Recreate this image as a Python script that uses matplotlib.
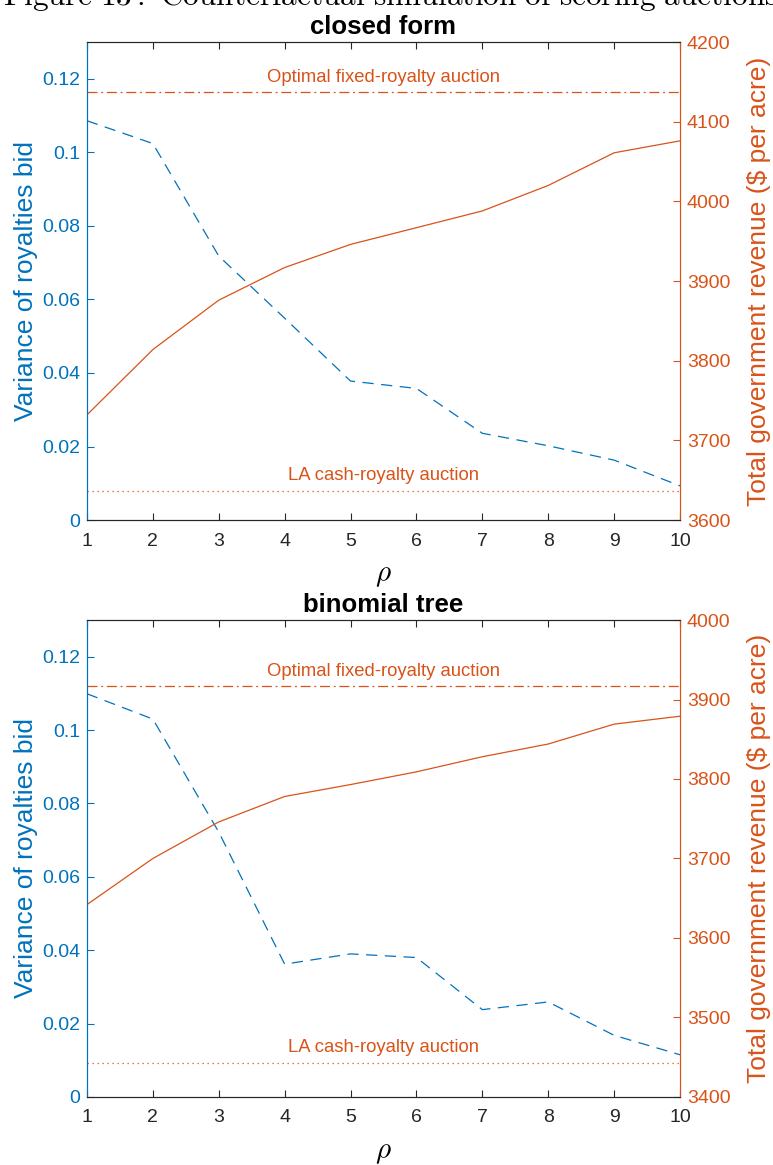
import matplotlib.pyplot as plt

plt.rcParams['font.family'] = ['Liberation Sans', 'DejaVu Sans']
plt.rcParams['mathtext.fontset'] = 'cm'

BLUE = '#0072BD'
ORANGE = '#D95319'
GRAY = '#262626'

rho = [1, 2, 3, 4, 5, 6, 7, 8, 9, 10]

# closed form
cf_variance = [0.1086, 0.1024, 0.0718, 0.0549, 0.0378, 0.0358, 0.0236, 0.0202, 0.0163, 0.0093]
cf_revenue = [3732, 3814, 3876, 3917, 3946, 3967, 3988, 4020, 4061, 4076]
cf_optimal = 4137
cf_la = 3637
cf_rev_lim = (3600, 4200)

# binomial tree
bt_variance = [0.1099, 0.1030, 0.0722, 0.0362, 0.0390, 0.0380, 0.0238, 0.0259, 0.0168, 0.0115]
bt_revenue = [3642, 3700, 3746, 3778, 3793, 3809, 3828, 3844, 3869, 3879]
bt_optimal = 3917
bt_la = 3443
bt_rev_lim = (3400, 4000)

var_ticks = [0, 0.02, 0.04, 0.06, 0.08, 0.1, 0.12]
var_ticklabels = ['0', '0.02', '0.04', '0.06', '0.08', '0.1', '0.12']

fig = plt.figure(figsize=(7.73, 11.65), dpi=100)
fig.text(0.505, 1 - 5 / 1165,
         r'$\mathrm{Figure\ 13:\ Counterfactual\ simulation\ of\ scoring\ auctions}$',
         ha='center', va='baseline', fontsize=22.5)


def panel(rect, title, variance, revenue, optimal, la, rev_lim):
    ax = fig.add_axes(rect)
    ax2 = ax.twinx()

    ax.plot(rho, variance, color=BLUE, lw=0.9, ls=(0, (9, 6)))
    ax.set_xlim(1, 10)
    ax.set_ylim(0, 0.13)
    ax.set_xticks(rho)
    ax.set_yticks(var_ticks)
    ax.set_yticklabels(var_ticklabels)
    ax.tick_params(axis='x', direction='in', top=True, length=5, width=0.8,
                   colors=GRAY, labelsize=14, pad=9)
    ax.tick_params(axis='y', direction='in', length=5, width=0.8,
                   colors=BLUE, labelsize=14, pad=5)
    ax.set_ylabel('Variance of royalties bid', color=BLUE, fontsize=19, labelpad=3)
    ax.set_xlabel(r'$\rho$', fontsize=21, labelpad=8)
    ax.set_title(title, fontsize=18.5, fontweight='bold', pad=6)

    ax2.plot(rho, revenue, color=ORANGE, lw=0.9)
    ax2.axhline(optimal, color=ORANGE, lw=0.9, ls=(0, (8, 3, 1.5, 3)))
    ax2.axhline(la, color=ORANGE, lw=0.9, ls=(0, (1, 3)))
    ax2.set_ylim(*rev_lim)
    ax2.set_yticks(range(rev_lim[0], rev_lim[1] + 1, 100))
    ax2.tick_params(axis='y', direction='in', length=5, width=0.8,
                    colors=ORANGE, labelsize=14, pad=5)
    ax2.set_ylabel('Total government revenue ($ per acre)', color=ORANGE,
                   fontsize=19, labelpad=12)

    ax2.text(5.5, optimal + 8, 'Optimal fixed-royalty auction', color=ORANGE,
             ha='center', va='bottom', fontsize=13.3)
    ax2.text(5.5, la + 8, 'LA cash-royalty auction', color=ORANGE,
             ha='center', va='bottom', fontsize=13.3)

    for a in (ax, ax2):
        for s in a.spines.values():
            s.set_linewidth(0.8)
        a.spines['top'].set_color(GRAY)
        a.spines['bottom'].set_color(GRAY)
        a.spines['left'].set_color(BLUE)
        a.spines['right'].set_color(ORANGE)
    return ax, ax2


panel([0.1125, 0.5536, 0.7672, 0.4103], 'closed form',
      cf_variance, cf_revenue, cf_optimal, cf_la, cf_rev_lim)
panel([0.1125, 0.0584, 0.7672, 0.4094], 'binomial tree',
      bt_variance, bt_revenue, bt_optimal, bt_la, bt_rev_lim)

fig.savefig('out.png', dpi=100)
